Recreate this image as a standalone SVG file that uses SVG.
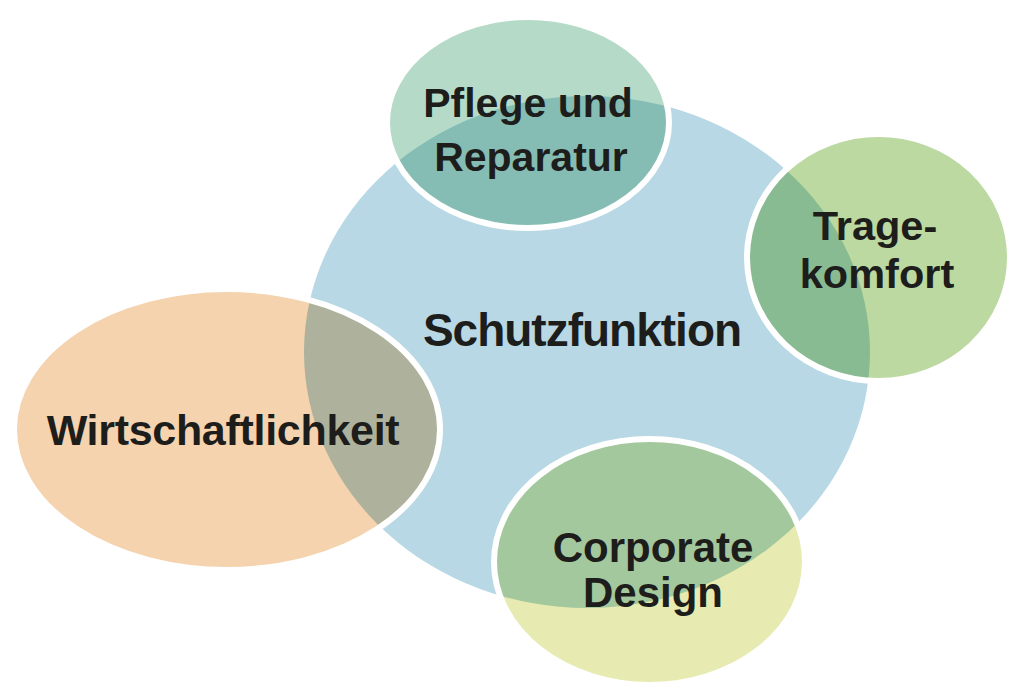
<svg xmlns="http://www.w3.org/2000/svg" width="1022" height="698" viewBox="0 0 1022 698">
<style>
.lbl{font-family:"Liberation Sans",Arial,Helvetica,sans-serif;font-weight:bold;fill:#1d1d1b;text-anchor:middle}
.rim{fill:none;stroke:#ffffff;stroke-width:6}
</style>
<defs>
<clipPath id="mainClip"><ellipse cx="587" cy="352" rx="283" ry="256"/></clipPath>
</defs>
<rect width="1022" height="698" fill="#ffffff"/>
<g id="node-schutzfunktion">
<ellipse cx="587" cy="352" rx="283" ry="256" fill="#b8d8e5"/>
<text class="lbl" x="582" y="346" font-size="46" letter-spacing="-1">Schutzfunktion</text>
</g>
<g id="node-pflege">
<ellipse cx="528" cy="122.5" rx="141" ry="105.5" fill="#b5dbc8"/>
<ellipse cx="528" cy="122.5" rx="141" ry="105.5" fill="#85bdb4" clip-path="url(#mainClip)"/>
<ellipse class="rim" cx="528" cy="122.5" rx="141" ry="105.5"/>
<text class="lbl" x="528" y="117" font-size="41">Pflege und</text>
<text class="lbl" x="531" y="171" font-size="41">Reparatur</text>
</g>
<g id="node-tragekomfort">
<ellipse cx="878.5" cy="257.5" rx="131.5" ry="123.5" fill="#bcd9a1"/>
<ellipse cx="878.5" cy="257.5" rx="131.5" ry="123.5" fill="#89bb92" clip-path="url(#mainClip)"/>
<ellipse class="rim" cx="878.5" cy="257.5" rx="131.5" ry="123.5"/>
<text class="lbl" x="875" y="240" font-size="41.5">Trage-</text>
<text class="lbl" x="877" y="288" font-size="41.5">komfort</text>
</g>
<g id="node-wirtschaftlichkeit">
<ellipse cx="227" cy="429.5" rx="213" ry="140.5" fill="#f5d3ae"/>
<ellipse cx="227" cy="429.5" rx="213" ry="140.5" fill="#aeb29c" clip-path="url(#mainClip)"/>
<ellipse class="rim" cx="227" cy="429.5" rx="213" ry="140.5"/>
<text class="lbl" x="223" y="445" font-size="43" letter-spacing="-0.3">Wirtschaftlichkeit</text>
</g>
<g id="node-corporate">
<ellipse cx="649.5" cy="562" rx="155.5" ry="123" fill="#e7ebb1"/>
<ellipse cx="649.5" cy="562" rx="155.5" ry="123" fill="#a4c89d" clip-path="url(#mainClip)"/>
<ellipse class="rim" cx="649.5" cy="562" rx="155.5" ry="123"/>
<text class="lbl" x="653" y="562" font-size="42">Corporate</text>
<text class="lbl" x="653" y="607" font-size="42">Design</text>
</g>
<g id="connectors"/>
</svg>
